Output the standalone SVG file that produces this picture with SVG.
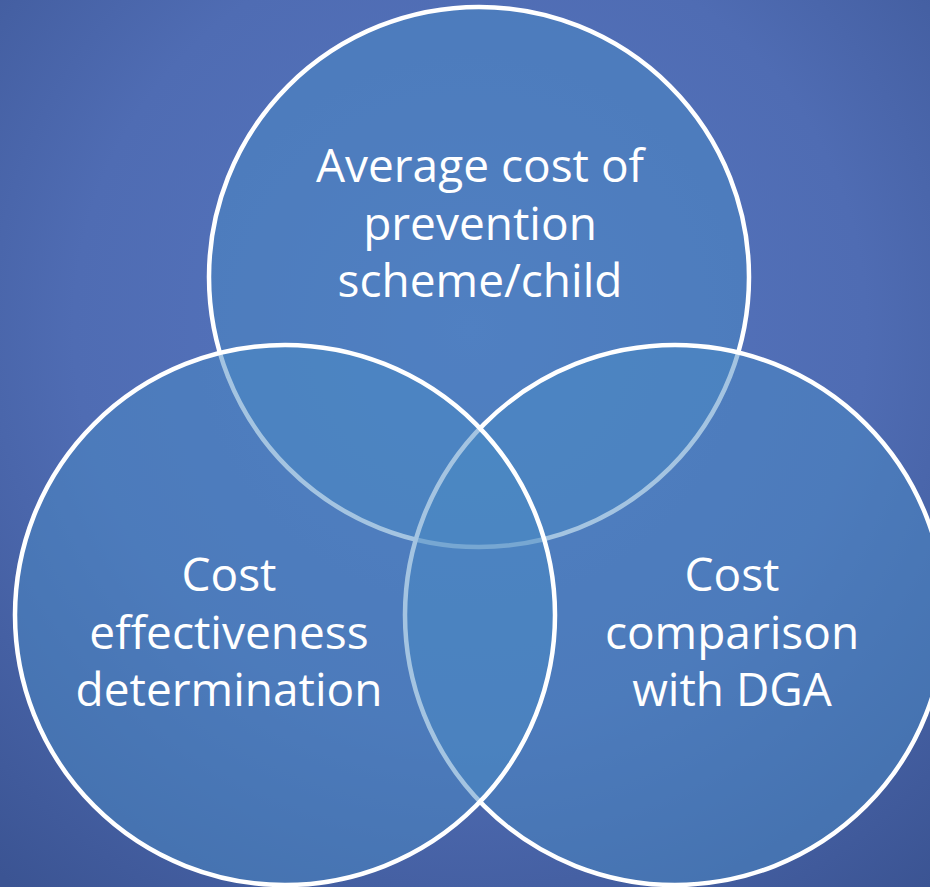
<svg xmlns="http://www.w3.org/2000/svg" width="930" height="887" viewBox="0 0 930 887">
  <defs>
    <radialGradient id="bg" cx="470" cy="330" r="720" gradientUnits="userSpaceOnUse">
      <stop offset="0" stop-color="#5676c0"/>
      <stop offset="0.55" stop-color="#4f6cb3"/>
      <stop offset="1" stop-color="#3b5493"/>
    </radialGradient>
  </defs>
  <style>
    .set { fill: #4a8ac4; fill-opacity: 0.5; stroke: #ffffff; stroke-width: 4.5; }
    .label { fill: #ffffff; font-family: "Open Sans", "Noto Sans", "Liberation Sans", sans-serif; font-size: 46px; text-anchor: middle; }
  </style>

  <!-- background -->
  <rect x="0" y="0" width="930" height="887" fill="url(#bg)"/>

  <!-- three-set Venn: top, right, then left drawn last -->
  <g id="set-average-cost">
    <circle class="set" cx="479" cy="277" r="270"/>
    <text class="label" x="480" y="182">Average cost of</text>
    <text class="label" x="480" y="240">prevention</text>
    <text class="label" x="480" y="297">scheme/child</text>
  </g>

  <g id="set-cost-comparison">
    <circle class="set" cx="675" cy="615" r="270"/>
    <text class="label" x="732" y="591">Cost</text>
    <text class="label" x="732" y="649">comparison</text>
    <text class="label" x="732" y="706">with DGA</text>
  </g>

  <g id="set-cost-effectiveness">
    <circle class="set" cx="285" cy="615" r="270"/>
    <text class="label" x="229" y="591">Cost</text>
    <text class="label" x="229" y="649">effectiveness</text>
    <text class="label" x="229" y="706">determination</text>
  </g>

  <g id="connectors"/>
</svg>
